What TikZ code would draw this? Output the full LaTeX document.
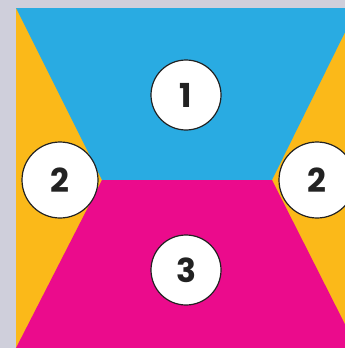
\documentclass[tikz,border=0pt]{standalone}
\usepackage{fontspec}
\setmainfont{Poppins}
\usepackage{xcolor}
\usetikzlibrary{positioning}
\definecolor{frame}{HTML}{CFCFDB}
\definecolor{skyblue}{HTML}{29ABE2}
\definecolor{sunyellow}{HTML}{FBB919}
\definecolor{hotpink}{HTML}{EB0B8C}
\definecolor{ink}{HTML}{222222}

\begin{document}
\begin{tikzpicture}[x=1pt,y=-1pt,
    badge/.style={circle,draw=ink,line width=1.2pt,fill=white,minimum size=70pt,inner sep=0pt,
      text=ink,font=\fontsize{33}{33}\selectfont\bfseries}]
  \useasboundingbox (0,0) rectangle (345,348);
  \fill[frame] (0,0) rectangle (345,348);
  \begin{scope}
    \clip (0,0) rectangle (345,348);
    % yellow square behind everything
    \fill[sunyellow] (16,8) rectangle (357,348);
    % top trapezoid
    \fill[skyblue] (16,8) -- (357,8) -- (272,180) -- (102,180) -- cycle;
    % bottom trapezoid
    \fill[hotpink] (102,180) -- (272,180) -- (357,348) -- (16,348) -- cycle;
  \end{scope}
  % numbered badges
  \node[badge] (top) at (186,95) {1};
  \node[badge] (bottom) at (186,270) {3};
  \node[badge,minimum size=76pt] (left) at (60,180) {2};
  \node[badge,minimum size=76pt] (right) at (317,180) {2};
\end{tikzpicture}
\end{document}
